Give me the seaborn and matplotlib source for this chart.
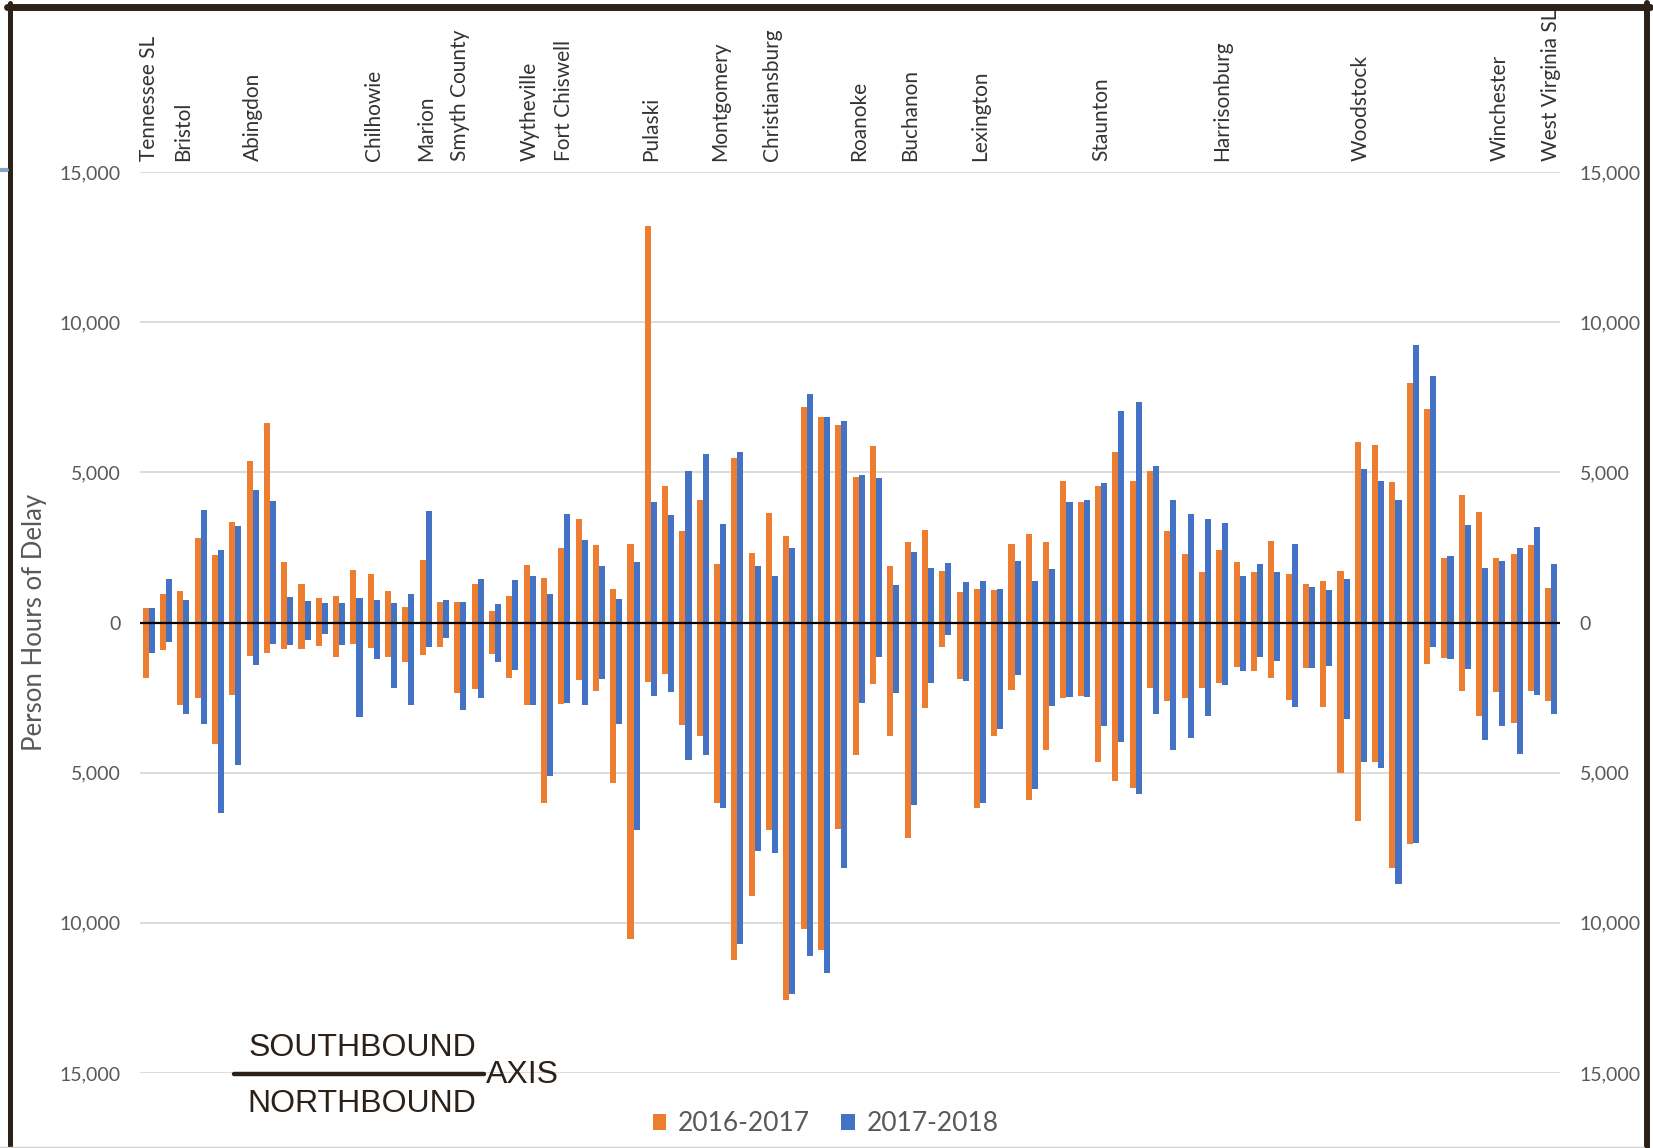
import numpy as np
import pandas as pd
import seaborn as sns
import matplotlib.pyplot as plt
from matplotlib.lines import Line2D
from matplotlib.patches import Patch

# delay per location, 82 count points south -> north
sb_1617 = [470, 965, 1040, 2800, 2250, 3360, 5370, 6630, 2000, 1275,
           810, 890, 1755, 1610, 1055, 500, 2075, 690, 690, 1275,
           390, 895, 1925, 1495, 2475, 3435, 2575, 1115, 2630, 13190,
           4535, 3040, 4070, 1940, 5465, 2320, 3640, 2885, 7165, 6840,
           6580, 4860, 5890, 1890, 2665, 3090, 1720, 1030, 1115, 1080,
           2610, 2955, 2665, 4725, 4000, 4555, 5670, 4725, 5035, 3060,
           2270, 1685, 2405, 2010, 1685, 2700, 1600, 1290, 1375, 1720,
           6015, 5925, 4690, 7990, 7095, 2150, 4245, 3695, 2150, 2270,
           2575, 1150]
sb_1718 = [470, 1465, 755, 3750, 2400, 3220, 4400, 4060, 865, 710,
           665, 645, 830, 755, 645, 965, 3700, 745, 690, 1465,
           600, 1425, 1545, 945, 3610, 2750, 1890, 775, 2010, 4000,
           3575, 5035, 5600, 3265, 5670, 1890, 1545, 2490, 7595, 6840,
           6700, 4895, 4810, 1235, 2355, 1805, 1975, 1355, 1375, 1115,
           2060, 1375, 1770, 4000, 4070, 4640, 7045, 7335, 5205, 4070,
           3610, 3435, 3300, 1545, 1940, 1685, 2610, 1170, 1080, 1460,
           5120, 4725, 4070, 9240, 8210, 2200, 3230, 1805, 2060, 2490,
           3180, 1940]
nb_1617 = [1850, 910, 2740, 2520, 4050, 2410, 1130, 1020, 890, 890,
           780, 1165, 700, 855, 1165, 1330, 1090, 830, 2350, 2200,
           1060, 1840, 2750, 6010, 2715, 1925, 2270, 5360, 10530, 1975,
           1720, 3400, 3780, 6010, 11250, 9105, 6905, 12575, 10220, 10910,
           6870, 4400, 2060, 3780, 7165, 2835, 825, 1890, 6185, 3780,
           2235, 5925, 4260, 2525, 2440, 4640, 5275, 5500, 2180, 2630,
           2525, 2180, 2010, 1495, 1600, 1840, 2575, 1510, 2800, 5015,
           6615, 4640, 8160, 7390, 1375, 1170, 2285, 3125, 2320, 3350,
           2285, 2630]
nb_1718 = [1000, 665, 3050, 3385, 6330, 4740, 1410, 700, 745, 590,
           390, 745, 3130, 1220, 2165, 2740, 830, 500, 2910, 2520,
           1320, 1580, 2750, 5100, 2665, 2750, 1890, 3385, 6905, 2440,
           2320, 4590, 4415, 6185, 10690, 7595, 7680, 12370, 11115, 11680,
           8160, 2665, 1150, 2355, 6065, 2010, 430, 1940, 6010, 3555,
           1750, 5530, 2785, 2490, 2490, 3435, 3985, 5705, 3040, 4260,
           3830, 3125, 2095, 1600, 1150, 1290, 2800, 1510, 1460, 3210,
           4640, 4845, 8710, 7355, 805, 1200, 1545, 3915, 3435, 4380,
           2405, 3040]

periods = ["2016-2017", "2017-2018"]
place_names = ["Tennessee SL", "Bristol", "Abingdon", "Chilhowie", "Marion",
               "Smyth County", "Wytheville", "Fort Chiswell", "Pulaski",
               "Montgomery", "Christiansburg", "Roanoke", "Buchanon",
               "Lexington", "Staunton", "Harrisonburg", "Woodstock",
               "Winchester", "West Virginia SL"]
place_idx = [1, 3, 7, 14, 17, 19, 23, 25, 30, 34, 37, 42, 45, 49, 56, 63,
             71, 79, 82]
yticks = [-15000, -10000, -5000, 0, 5000, 10000, 15000]

orange = "#ED7D31"
blue = "#4472C4"
frame_col = "#2b2118"

n = len(sb_1617)
locs = list(range(1, n + 1))
sb = pd.DataFrame({"loc": locs * 2,
                   "period": [periods[0]] * n + [periods[1]] * n,
                   "value": sb_1617 + sb_1718})
nb = pd.DataFrame({"loc": locs * 2,
                   "period": [periods[0]] * n + [periods[1]] * n,
                   "value": [-v for v in nb_1617 + nb_1718]})

sns.set_style("white")
plt.rcParams['font.family'] = ['Lato', 'DejaVu Sans']

fig = plt.figure(figsize=(16.53, 11.48), dpi=100)
ax = fig.add_axes([140 / 1653, 75 / 1148, 1420 / 1653, 901 / 1148])

for d in (sb, nb):
    sns.barplot(data=d, x="loc", y="value", hue="period", palette=[orange, blue],
                width=0.7, saturation=1, errorbar=None, legend=False,
                edgecolor="none", linewidth=0, ax=ax)

ax.set_xlim(-0.5, n - 0.5)
ax.set_ylim(-15000, 15000)
ax.axhline(0, color="black", lw=1.6, zorder=5)
ax.set_axisbelow(True)
ax.grid(axis="y", color="#d9d9d9", lw=1.3)
ax.grid(axis="x", visible=False)
for s in ax.spines.values():
    s.set_visible(False)

ax.set_yticks(yticks)
ax.set_yticklabels([f"{abs(v):,}" for v in yticks])
ax.tick_params(axis="y", length=0, pad=14, labelsize=14, labelcolor="#595959",
               labelleft=True, labelright=True)

ax.set_xticks([p - 1 for p in place_idx])
ax.set_xticklabels(place_names, rotation=90)
ax.xaxis.set_ticks_position("top")
ax.tick_params(axis="x", length=0, pad=8, labelsize=15, labelcolor="#333333",
               labeltop=True, labelbottom=False)
ax.set_xlabel("")

ax.set_ylabel("Person Hours of Delay", fontsize=18.5, color="#595959")
ax.yaxis.set_label_coords(-(140 - 47) / 1420, 0.5)

# southbound / northbound key
fig.text(362 / 1653, 0.0875, "SOUTHBOUND", ha="center", va="center",
         fontsize=23, color=frame_col, family="Liberation Sans")
fig.text(362 / 1653, 0.0383, "NORTHBOUND", ha="center", va="center",
         fontsize=23, color=frame_col, family="Liberation Sans")
fig.text(486 / 1653, 0.0632, "AXIS", ha="left", va="center",
         fontsize=23, color=frame_col, family="Liberation Sans")
fig.add_artist(Line2D([234 / 1653, 484 / 1653], [0.0645, 0.0645],
                      color=frame_col, lw=3.2))

handles = [Patch(facecolor=orange, edgecolor="none"),
           Patch(facecolor=blue, edgecolor="none")]
fig.legend(handles, periods, loc="center", bbox_to_anchor=(0.4994, 0.021),
           ncol=2, frameon=False, fontsize=19, labelcolor="#595959",
           handlelength=0.5, handleheight=0.55, handletextpad=0.45,
           columnspacing=1.2)

# outer frame
fig.add_artist(Line2D([7 / 1653, 1650 / 1653], [1 - 6.5 / 1148] * 2,
                      color=frame_col, lw=5))
fig.add_artist(Line2D([9.5 / 1653] * 2, [0, 1 - 3 / 1148],
                      color=frame_col, lw=3.6))
fig.add_artist(Line2D([1647 / 1653] * 2, [0, 1 - 3 / 1148],
                      color=frame_col, lw=4.3))
fig.add_artist(Line2D([0, 1644 / 1653], [1.5 / 1148] * 2,
                      color="#d0d0d0", lw=1))
fig.add_artist(Line2D([0, 7 / 1653], [1 - 170 / 1148] * 2,
                      color="#8aa4bf", lw=3))

fig.savefig("out.png", dpi=100)
